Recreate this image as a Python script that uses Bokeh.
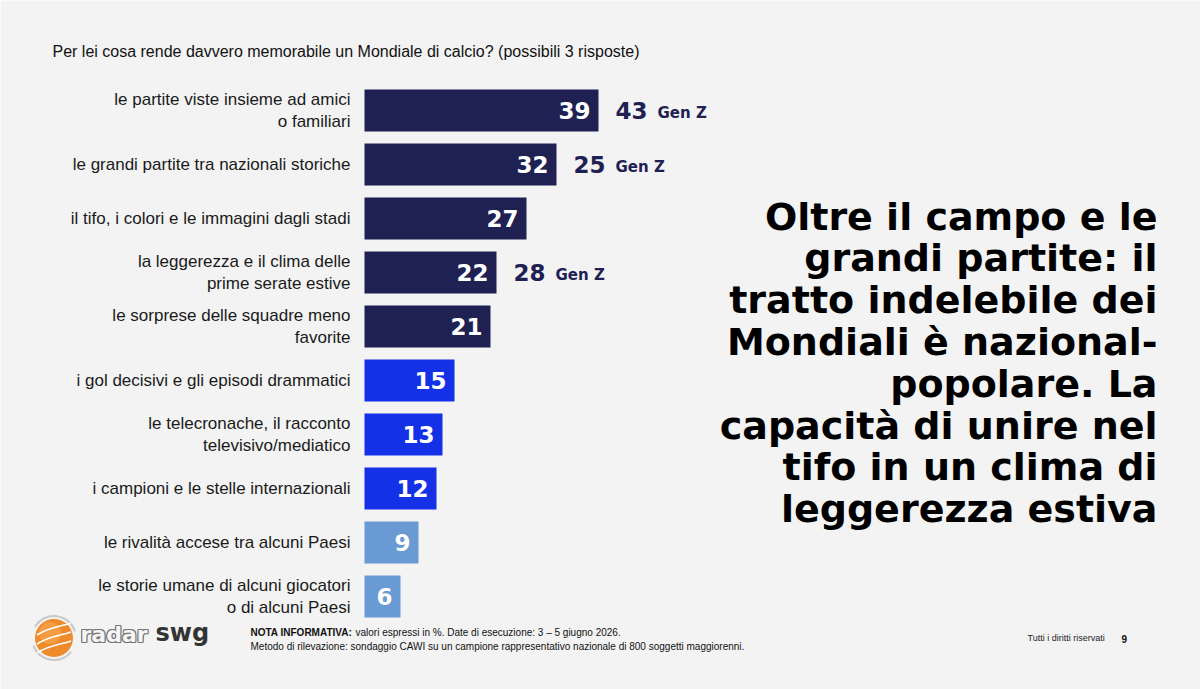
from bokeh.plotting import figure
from bokeh.models import Range1d, Label
from bokeh.core.properties import value
from bokeh.embed import file_html
from bokeh.resources import INLINE

# ---------------- data ----------------
categories = [
    "le partite viste insieme ad amici\no familiari",
    "le grandi partite tra nazionali storiche",
    "il tifo, i colori e le immagini dagli stadi",
    "la leggerezza e il clima delle\nprime serate estive",
    "le sorprese delle squadre meno\nfavorite",
    "i gol decisivi e gli episodi drammatici",
    "le telecronache, il racconto\ntelevisivo/mediatico",
    "i campioni e le stelle internazionali",
    "le rivalità accese tra alcuni Paesi",
    "le storie umane di alcuni giocatori\no di alcuni Paesi",
]
values = [39, 32, 27, 22, 21, 15, 13, 12, 9, 6]
groups = ["top", "top", "top", "top", "top", "mid", "mid", "mid", "low", "low"]
genz_rows = [0, 1, 3]
genz_values = [43, 25, 28]
genz_label = "Gen Z"

title_text = "Per lei cosa rende davvero memorabile un Mondiale di calcio? (possibili 3 risposte)"
headline = [
    "Oltre il campo e le",
    "grandi partite: il",
    "tratto indelebile dei",
    "Mondiali è nazional-",
    "popolare. La",
    "capacità di unire nel",
    "tifo in un clima di",
    "leggerezza estiva",
]
note_bold = "NOTA INFORMATIVA:"
note_1 = "valori espressi in %. Date di esecuzione: 3 – 5 giugno 2026."
note_2 = "Metodo di rilevazione: sondaggio CAWI su un campione rappresentativo nazionale di 800 soggetti maggiorenni."
rights = "Tutti i diritti riservati"
page_no = "9"

# ---------------- styling ----------------
W, H = 1200, 689
BG = "#f3f3f3"
palette = {"top": "#1e2152", "mid": "#1531e8", "low": "#6a9ad3"}
colors = [palette[g] for g in groups]

X0, PXU = 364.0, 6.0      # pixel of value 0, pixels per unit
Y0, PYR = 110.0, 54.0     # pixel (from top) of first row, pixels per row

def px2x(px):
    return (px - X0) / PXU

def py2y(py):
    return (py - Y0) / PYR

rows = list(range(len(values)))

p = figure(width=W, height=H, output_backend="svg", toolbar_location=None,
           x_range=Range1d(px2x(0), px2x(W)), y_range=Range1d(py2y(H), py2y(0)),
           min_border=0, background_fill_color=BG, border_fill_color=BG,
           outline_line_color=None)
p.axis.visible = False
p.grid.visible = False

# bars
p.hbar(y=rows, left=0, right=values, height=0.78, fill_color=colors, line_color=None)

# category labels
p.text(x=px2x(350), y=rows, text=categories, text_align="right", text_baseline="middle",
       text_font=value("Liberation Sans"), text_font_size="17px", text_color="#1a1a1a",
       text_line_height=1.2)

# values inside bars
p.text(x=values, y=rows, text=[str(v) for v in values], x_offset=-8,
       text_align="right", text_baseline="middle", text_font=value("DejaVu Sans"),
       text_font_style="bold", text_font_size="23px", text_color="white")

# Gen Z values
gx = [values[r] for r in genz_rows]
p.text(x=gx, y=genz_rows, text=[str(v) for v in genz_values], x_offset=17,
       text_align="left", text_baseline="middle", text_font=value("DejaVu Sans"),
       text_font_style="bold", text_font_size="23px", text_color="#1e2152")
p.text(x=gx, y=genz_rows, text=[genz_label] * len(genz_rows), x_offset=59, y_offset=2,
       text_align="left", text_baseline="middle", text_font=value("DejaVu Sans"),
       text_font_style="bold", text_font_size="15px", text_color="#1e2152")

# title
p.add_layout(Label(x=52, y=H - 51, x_units="screen", y_units="screen", text=title_text,
                   text_font="Liberation Sans", text_font_size="16px", text_color="#111111",
                   text_baseline="alphabetic"))

# headline
for k, line in enumerate(headline):
    p.add_layout(Label(x=1157, y=H - (216 + 41.8 * k), x_units="screen", y_units="screen",
                       text=line, text_align="right", text_baseline="alphabetic",
                       text_font="DejaVu Sans", text_font_style="bold",
                       text_font_size="38px", text_color="#000000"))

# footer notes
p.add_layout(Label(x=250, y=H - 637, x_units="screen", y_units="screen", text=note_bold,
                   text_font="Liberation Sans", text_font_style="bold",
                   text_font_size="10px", text_color="#111111"))
p.add_layout(Label(x=355, y=H - 637, x_units="screen", y_units="screen", text=note_1,
                   text_font="Liberation Sans",
                   text_font_size="10px", text_color="#111111"))
p.add_layout(Label(x=250, y=H - 651, x_units="screen", y_units="screen", text=note_2,
                   text_font="Liberation Sans",
                   text_font_size="10px", text_color="#111111"))
p.add_layout(Label(x=1027, y=H - 642, x_units="screen", y_units="screen", text=rights,
                   text_font="Liberation Sans",
                   text_font_size="9px", text_color="#222222"))
p.add_layout(Label(x=1121, y=H - 642, x_units="screen", y_units="screen", text=page_no,
                   text_font="Liberation Sans", text_font_style="bold",
                   text_font_size="10px", text_color="#111111"))

# logo: orange ball with swirls
bx, by = 53.5, 637.5
p.arc(x=[px2x(bx)], y=[py2y(by)], radius=22, radius_units="screen",
      start_angle=0.3, end_angle=2.6, line_color="#c8c8c8", line_width=2)
p.arc(x=[px2x(bx)], y=[py2y(by)], radius=22, radius_units="screen",
      start_angle=3.5, end_angle=5.6, line_color="#c8c8c8", line_width=2)
p.scatter(x=[px2x(bx)], y=[py2y(by)], size=38, marker="circle",
          fill_color="#ee8a2a", line_color=None)
p.scatter(x=[px2x(bx - 4)], y=[py2y(by - 5)], size=22, marker="circle",
          fill_color="#f6a54a", line_color=None, fill_alpha=0.7)
for dy in (-9, 0, 9):
    p.bezier(x0=[px2x(bx - 17)], y0=[py2y(by + 6 + dy)],
             x1=[px2x(bx + 17)], y1=[py2y(by - 6 + dy)],
             cx0=[px2x(bx - 5)], cy0=[py2y(by - 2 + dy)],
             cx1=[px2x(bx + 5)], cy1=[py2y(by - 2 + dy)],
             line_color="white", line_width=1.6)

# logo text
for ox, oy in ((-1, 0), (1, 0), (0, -1), (0, 1), (-1, -1), (1, 1), (1, -1), (-1, 1)):
    p.add_layout(Label(x=80 + ox, y=H - 646 + oy, x_units="screen", y_units="screen",
                       text="radar", text_font="DejaVu Sans", text_font_style="bold",
                       text_font_size="22px", text_color="#777777"))
p.add_layout(Label(x=80, y=H - 646, x_units="screen", y_units="screen",
                   text="radar", text_font="DejaVu Sans", text_font_style="bold",
                   text_font_size="22px", text_color="#f5f5f5"))
p.add_layout(Label(x=155, y=H - 646, x_units="screen", y_units="screen",
                   text="swg", text_font="DejaVu Sans", text_font_style="bold",
                   text_font_size="24px", text_color="#333333"))

open("out.html", "w").write(file_html(p, INLINE))
